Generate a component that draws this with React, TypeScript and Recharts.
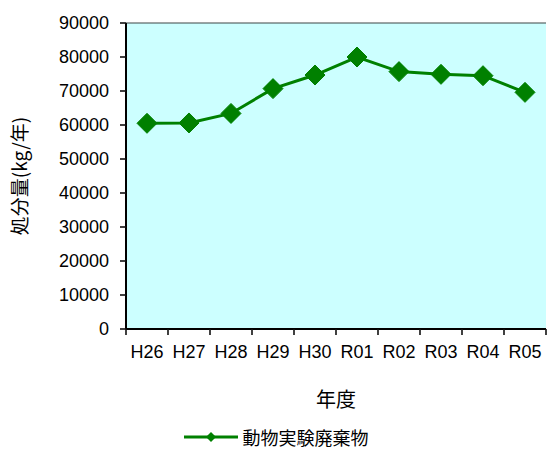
import {
  CartesianGrid,
  Legend,
  Line,
  LineChart,
  XAxis,
  YAxis,
} from "recharts";

const years = ["H26", "H27", "H28", "H29", "H30", "R01", "R02", "R03", "R04", "R05"];
const disposal = [60500, 60600, 63400, 70700, 74700, 80000, 75700, 74900, 74500, 69600];
const yTicks = [0, 10000, 20000, 30000, 40000, 50000, 60000, 70000, 80000, 90000];
const seriesName = "動物実験廃棄物";

const chartData = years.map((year, i) => ({
  year,
  slot: i + 0.5,
  disposal: disposal[i],
}));

const labelSlots = years.map((_, i) => i + 0.5);
const boundarySlots = [...years.map((_, i) => i), years.length];

const GREEN = "#008000";
const numFont = "'Liberation Sans', Arial, sans-serif";
const jpFont = "'Noto Sans CJK JP', sans-serif";
const TICK = 6;
const Y_GAP = 11;

function Diamond(props: any) {
  const { cx, cy } = props;
  if (cx == null || cy == null) return null;
  const r = 10;
  return (
    <path
      d={`M${cx},${cy - r}L${cx + r},${cy}L${cx},${cy + r}L${cx - r},${cy}Z`}
      fill={GREEN}
      stroke={GREEN}
    />
  );
}

// tick mark hanging below the x axis at each category boundary
function EdgeTick(props: any) {
  const { x, y } = props;
  const top = y - TICK - 2;
  return <line x1={x} x2={x} y1={top} y2={top + TICK} stroke="#111" strokeWidth={1.6} />;
}

// y tick label plus its tick mark
function YTick(props: any) {
  const { x, y, payload } = props;
  const axisX = x + TICK + Y_GAP;
  return (
    <g>
      <line x1={axisX - TICK} x2={axisX} y1={y} y2={y} stroke="#111" strokeWidth={1.6} />
      <text
        x={x}
        y={y}
        textAnchor="end"
        dominantBaseline="central"
        fontSize={18}
        fontFamily={numFont}
        fill="#000"
      >
        {payload.value}
      </text>
    </g>
  );
}

function LegendContent() {
  return (
    <div
      style={{
        display: "flex",
        justifyContent: "center",
        alignItems: "center",
        height: 28,
        lineHeight: "28px",
        fontFamily: jpFont,
        fontSize: 18,
        color: "#000",
        paddingLeft: 6,
      }}
    >
      <svg width={54} height={14} style={{ marginRight: 5 }}>
        <line x1={0} y1={7} x2={54} y2={7} stroke={GREEN} strokeWidth={3} />
        <path d="M27,2L32,7L27,12L22,7Z" fill={GREEN} />
      </svg>
      <span>{seriesName}</span>
    </div>
  );
}

export default function App() {
  return (
    <div style={{ position: "absolute", left: 0, top: 0, background: "#fff" }}>
      <LineChart
        width={548}
        height={451}
        data={chartData}
        margin={{ top: 23, right: 2, bottom: 0, left: 0 }}
      >
        <CartesianGrid
          vertical={false}
          fill="#ccffff"
          stroke="#3c4646"
          strokeWidth={1.2}
          fillOpacity={1}
        />
        <XAxis
          xAxisId="edges"
          type="number"
          dataKey="slot"
          domain={[0, years.length]}
          ticks={boundarySlots}
          interval={0}
          tick={<EdgeTick />}
          tickSize={TICK}
          tickMargin={2}
          height={1}
          axisLine={{ stroke: "#000", strokeWidth: 2 }}
          tickLine={false}
        />
        <XAxis
          xAxisId="labels"
          type="number"
          dataKey="slot"
          domain={[0, years.length]}
          ticks={labelSlots}
          interval={0}
          tickFormatter={(v: number) => years[Math.floor(v)]}
          tickSize={0}
          tickMargin={15}
          axisLine={false}
          tickLine={false}
          height={93}
          tick={{ fill: "#000", fontSize: 18, fontFamily: numFont }}
          label={{
            value: "年度",
            position: "insideTop",
            offset: 63,
            fill: "#000",
            fontSize: 20,
            fontFamily: jpFont,
          }}
        />
        <YAxis
          yAxisId="left"
          width={126}
          domain={[0, 90000]}
          ticks={yTicks}
          interval={0}
          tickSize={TICK}
          tickMargin={Y_GAP}
          axisLine={{ stroke: "#000", strokeWidth: 2 }}
          tickLine={false}
          tick={<YTick />}
          label={{
            content: ({ viewBox }: any) => {
              const x = viewBox.x + 18;
              const y = viewBox.y + viewBox.height / 2;
              return (
                <text
                  x={x}
                  y={y}
                  transform={`rotate(-90, ${x}, ${y})`}
                  textAnchor="middle"
                  dominantBaseline="central"
                  fontSize={19}
                  fontFamily={jpFont}
                  fill="#000"
                >
                  処分量(kg/年)
                </text>
              );
            },
          }}
        />
        <YAxis
          yAxisId="right"
          orientation="right"
          width={0}
          domain={[0, 90000]}
          tick={false}
          tickLine={false}
          axisLine={{ stroke: "#808080", strokeWidth: 2 }}
        />
        <Legend verticalAlign="bottom" content={<LegendContent />} />
        <Line
          xAxisId="labels"
          yAxisId="left"
          type="linear"
          dataKey="disposal"
          name={seriesName}
          stroke={GREEN}
          strokeWidth={3}
          dot={<Diamond />}
          activeDot={false}
          isAnimationActive={false}
        />
      </LineChart>
    </div>
  );
}
